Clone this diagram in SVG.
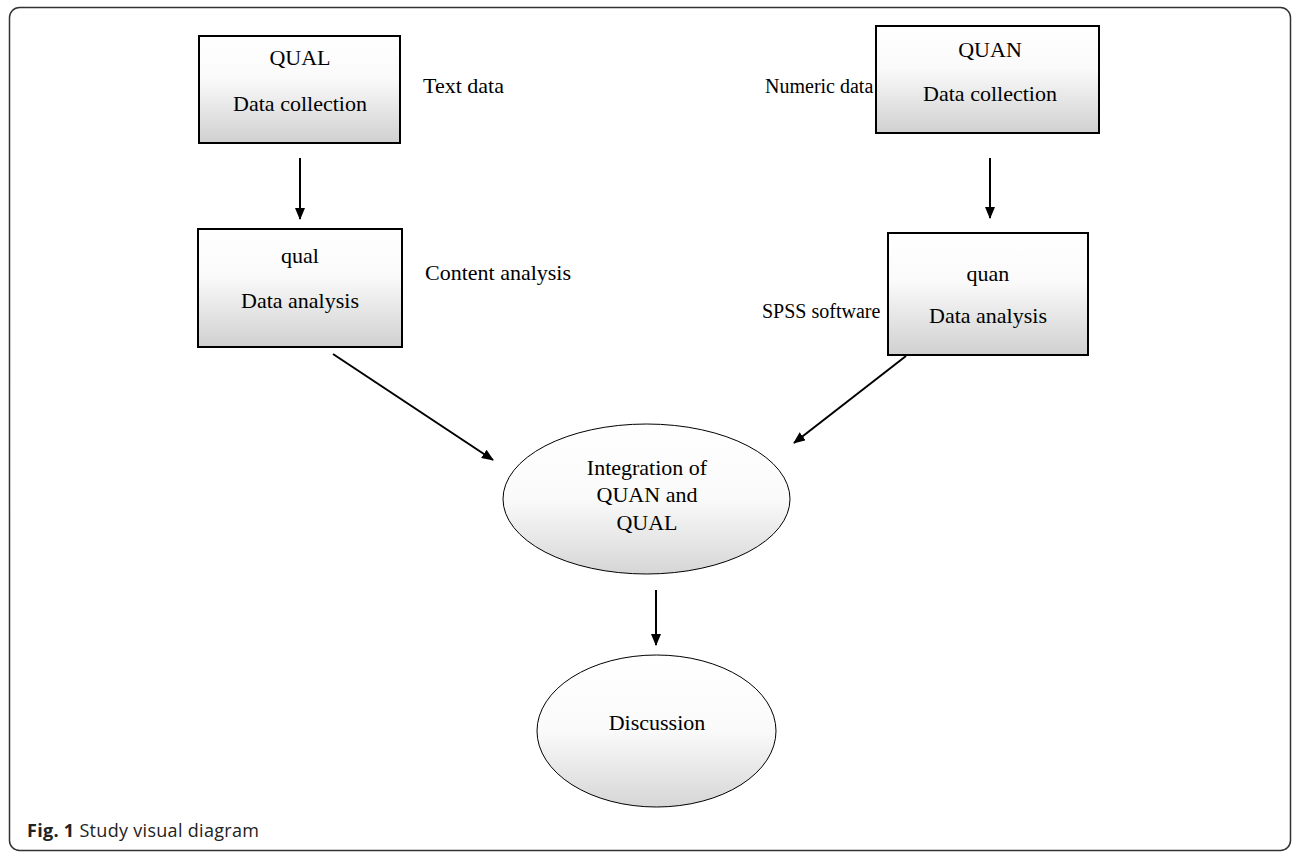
<svg xmlns="http://www.w3.org/2000/svg" width="1293" height="852" viewBox="0 0 1293 852">
<defs>
<linearGradient id="boxGrad" x1="0" y1="0" x2="0" y2="1">
<stop offset="0" stop-color="#ffffff"/>
<stop offset="0.4" stop-color="#fafafa"/>
<stop offset="1" stop-color="#d0d0d0"/>
</linearGradient>
<linearGradient id="ellGrad" x1="0" y1="0" x2="0" y2="1">
<stop offset="0" stop-color="#ffffff"/>
<stop offset="0.5" stop-color="#fafafa"/>
<stop offset="1" stop-color="#d6d6d6"/>
</linearGradient>
<marker id="arrow" markerWidth="6" markerHeight="5" refX="5.5" refY="2.5" orient="auto" markerUnits="strokeWidth">
<path d="M0,0 L6,2.5 L0,5 z" fill="#000"/>
</marker>
<style>
.box{fill:url(#boxGrad);stroke:#000;stroke-width:2}
.ell{fill:url(#ellGrad);stroke:#000;stroke-width:1}
.t{font-family:"Liberation Serif","Times New Roman",serif;font-size:22px;fill:#000}
.c{text-anchor:middle}
.lbl{font-family:"Liberation Serif","Times New Roman",serif;font-size:20px;fill:#000}
.conn{stroke:#000;stroke-width:2;fill:none;marker-end:url(#arrow)}
.cap{font-family:"Open Sans","Noto Sans",sans-serif;font-size:18px;letter-spacing:0.3px;fill:#222}
</style>
</defs>
<rect width="1293" height="852" fill="#fff"/>
<rect id="frame" x="9.5" y="7.5" width="1281" height="843" rx="10" ry="10" fill="none" stroke="#333" stroke-width="1.5"/>

<g id="node-qual-collection">
<rect class="box" x="199" y="36" width="201" height="107"/>
<text class="t c" x="300" y="65">QUAL</text>
<text class="t c" x="300" y="111">Data collection</text>
</g>
<g id="node-quan-collection">
<rect class="box" x="876" y="26" width="223" height="107"/>
<text class="t c" x="990" y="57">QUAN</text>
<text class="t c" x="990" y="101">Data collection</text>
</g>
<g id="node-qual-analysis">
<rect class="box" x="198" y="229" width="204" height="118"/>
<text class="t c" x="300" y="263">qual</text>
<text class="t c" x="300" y="308">Data analysis</text>
</g>
<g id="node-quan-analysis">
<rect class="box" x="888" y="233" width="200" height="122"/>
<text class="t c" x="988" y="281">quan</text>
<text class="t c" x="988" y="323">Data analysis</text>
</g>
<g id="node-integration">
<ellipse class="ell" cx="646.5" cy="499" rx="143.5" ry="75"/>
<text class="t c" x="647" y="475">Integration of</text>
<text class="t c" x="647" y="502">QUAN and</text>
<text class="t c" x="647" y="530">QUAL</text>
</g>
<g id="node-discussion">
<ellipse class="ell" cx="656.5" cy="731" rx="119.5" ry="76"/>
<text class="t c" x="657" y="730">Discussion</text>
</g>

<g id="labels">
<text class="t" x="423" y="93">Text data</text>
<text class="lbl" x="765" y="93">Numeric data</text>
<text class="t" x="425" y="280">Content analysis</text>
<text class="lbl" x="762" y="318">SPSS software</text>
</g>

<g id="connectors">
<line class="conn" x1="300" y1="158" x2="300" y2="219"/>
<line class="conn" x1="990" y1="158" x2="990" y2="218"/>
<line class="conn" x1="333" y1="354" x2="493" y2="460"/>
<line class="conn" x1="906" y1="356" x2="794" y2="443"/>
<line class="conn" x1="656" y1="590" x2="656" y2="645"/>
</g>

<text class="cap" x="27" y="837"><tspan font-weight="bold">Fig. 1</tspan> Study visual diagram</text>
</svg>
